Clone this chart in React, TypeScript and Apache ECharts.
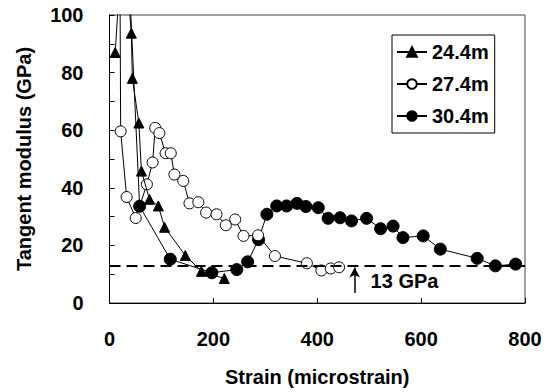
import React, { useEffect, useRef } from "react";
import * as echarts from "echarts";

// Strain (microstrain), tangent modulus (GPa)
const depth244: number[][] = [
  [11, 87], [26, 130], [42, 93.7], [44, 78], [56.5, 62.5], [61.5, 45.8],
  [77, 36], [94, 33.7], [106, 26.3], [146, 16.5], [177, 11], [221, 8.5],
];
const depth274: number[][] = [
  [18, 200], [21.5, 59.6], [33, 36.8], [50.5, 29.5], [72, 41.2], [83, 48.8],
  [88, 60.8], [96, 59], [108, 52], [118, 52], [125, 44.6], [142, 42.4],
  [154, 34.6], [171, 35], [186, 31.4], [206, 30.8], [224, 27], [242, 29],
  [258, 23.3], [286, 23.5], [318.5, 16.3], [380, 13.8], [408, 11.3],
  [426, 12], [442, 12.4],
];
const depth304: number[][] = [
  [36, 120], [58, 33.6], [117, 15.2], [197, 10.5], [245, 11.6], [266, 14.3],
  [287, 22], [303, 30.8], [322, 33.7], [341, 33.7], [361, 34.6], [378, 33.5],
  [402, 33.1], [421, 29.4], [444, 29.6], [466, 28.5], [495, 29.4], [522, 25.8],
  [546, 26.7], [565, 22.7], [604, 23.3], [637, 18.7], [708, 15.5], [743, 12.9],
  [782, 13.5],
];
const seriesNames: string[] = ["24.4m", "27.4m", "30.4m"];
const xRange: number[] = [0, 800, 200];
const yRange: number[] = [0, 100, 10];
const thresholdGPa = 13;
const arrowX = 472;
const arrowFrom = 3.5;
const arrowTo = 12.3;
const annotationPos: number[] = [568, 7.6];
const annotationText = "13 GPa";

const FONT = "'Liberation Sans', Arial, Helvetica, sans-serif";

export default function App() {
  const ref = useRef<HTMLDivElement>(null);
  useEffect(() => {
    if (!ref.current) return;
    const chart = echarts.init(ref.current, undefined, { renderer: "svg" });
    const baseLine = { color: "#000", width: 1 };
    chart.setOption({
      animation: false,
      backgroundColor: "#fff",
      grid: {
        left: 109.5,
        right: 27,
        top: 15,
        bottom: 88,
        show: true,
        borderColor: "#444",
        borderWidth: 1,
      },
      legend: {
        orient: "vertical",
        left: 392,
        top: 35,
        padding: [7, 6, 7, 4],
        itemGap: 12,
        itemWidth: 30,
        itemHeight: 12,
        borderColor: "#000",
        borderWidth: 1,
        borderRadius: 0,
        backgroundColor: "#fff",
        data: seriesNames,
        textStyle: {
          fontFamily: FONT,
          fontSize: 20,
          fontWeight: "bold",
          color: "#000",
        },
      },
      xAxis: {
        type: "value",
        min: xRange[0],
        max: xRange[1],
        interval: xRange[2],
        name: "Strain (microstrain)",
        nameLocation: "middle",
        nameGap: 64,
        nameTextStyle: { fontFamily: FONT, fontSize: 20, fontWeight: "bold", color: "#000" },
        axisLine: { show: true, lineStyle: { color: "#000", width: 1 } },
        axisTick: { show: true, inside: true, length: 5, lineStyle: { color: "#000" } },
        axisLabel: {
          fontFamily: FONT,
          fontSize: 20,
          fontWeight: "bold",
          color: "#000",
          margin: 26,
        },
        splitLine: { show: false },
      },
      yAxis: {
        type: "value",
        min: yRange[0],
        max: yRange[1],
        interval: yRange[2],
        name: "Tangent modulus (GPa)",
        nameLocation: "middle",
        nameGap: 76,
        nameTextStyle: { fontFamily: FONT, fontSize: 20, fontWeight: "bold", color: "#000" },
        axisLine: { show: true, lineStyle: { color: "#000", width: 1 } },
        axisTick: { show: true, inside: true, length: 5, lineStyle: { color: "#000" } },
        axisLabel: {
          fontFamily: FONT,
          fontSize: 20,
          fontWeight: "bold",
          color: "#000",
          margin: 26,
          formatter: (v: number) => (v % 20 === 0 ? String(v) : ""),
        },
        splitLine: { show: false },
      },
      series: [
        {
          name: seriesNames[0],
          type: "line",
          data: depth244,
          clip: true,
          symbol: "triangle",
          symbolSize: 10,
          lineStyle: baseLine,
          itemStyle: { color: "#000", borderColor: "#000", borderWidth: 1 },
          z: 4,
        },
        {
          name: seriesNames[1],
          type: "line",
          data: depth274,
          clip: true,
          symbol: "circle",
          symbolSize: 11,
          showAllSymbol: true,
          lineStyle: baseLine,
          itemStyle: { color: "#fff", borderColor: "#000", borderWidth: 1 },
          z: 3,
          markLine: {
            silent: true,
            symbol: ["none", "arrow"],
            symbolSize: [8, 10],
            label: { show: false },
            lineStyle: { color: "#000", width: 1.5, type: "solid" },
            data: [
              [
                { coord: [arrowX, arrowFrom] },
                { coord: [arrowX, arrowTo] },
              ],
            ],
          },
          markPoint: {
            silent: true,
            symbol: "circle",
            symbolSize: 1,
            itemStyle: { color: "rgba(0,0,0,0)" },
            label: {
              show: true,
              position: "inside",
              formatter: annotationText,
              fontFamily: FONT,
              fontSize: 20,
              fontWeight: "bold",
              color: "#000",
            },
            data: [{ coord: annotationPos }],
          },
        },
        {
          name: seriesNames[2],
          type: "line",
          data: depth304,
          clip: true,
          symbol: "circle",
          symbolSize: 12,
          showAllSymbol: true,
          lineStyle: baseLine,
          itemStyle: { color: "#000", borderColor: "#000", borderWidth: 1 },
          z: 2,
          markLine: {
            silent: true,
            symbol: "none",
            label: { show: false },
            lineStyle: { color: "#000", width: 1.8, type: [11, 6] },
            data: [{ yAxis: thresholdGPa }],
          },
        },
      ],
    });
    return () => chart.dispose();
  }, []);
  return (
    <div
      ref={ref}
      style={{ position: "fixed", left: 0, top: 0, width: 552, height: 392 }}
    />
  );
}
